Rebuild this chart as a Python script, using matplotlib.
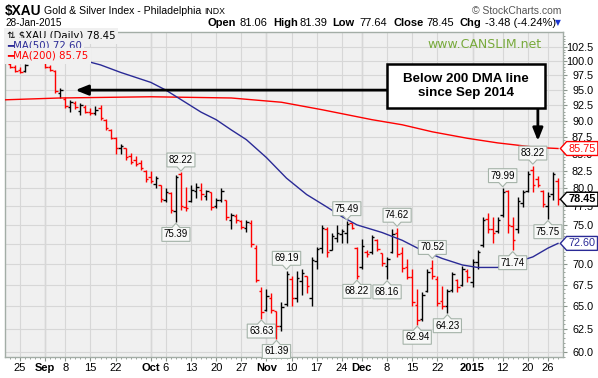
import matplotlib
matplotlib.use("Agg")
import matplotlib.pyplot as plt
import numpy as np
from matplotlib.path import Path
from matplotlib.patches import Rectangle
from matplotlib.ticker import FixedLocator, NullFormatter

plt.rcParams['font.family'] = ['Liberation Sans', 'DejaVu Sans']

W, H = 598, 378

# daily bars, day 0 = 21-Aug-2014 ... day 109 = 28-Jan-2015
opens = [99.4, 99.0, 98.4, 98.2, 100.6, 101.6, 102.1, 99.8, 99.0, 98.3,
         94.6, 93.6, 92.2, 92.9, 91.6, 92.3, 91.5, 91.3, 92.0, 90.2,
         88.6, 87.3, 85.8, 85.8, 84.6, 84.0, 83.6, 82.5, 81.6, 80.6,
         80.5, 78.4, 79.3, 76.8, 82.0, 77.4, 78.2, 79.6, 79.8, 78.9,
         79.4, 77.5, 78.3, 78.4, 75.6, 76.2, 75.5, 74.6, 75.3, 72.0,
         66.8, 64.6, 66.0, 64.5, 62.8, 65.3, 68.2, 66.0, 68.0, 68.6,
         66.0, 70.4, 72.0, 74.5, 71.8, 73.3, 73.8, 74.0, 75.2, 72.0,
         69.6, 71.5, 71.5, 73.0, 71.4, 69.8, 71.5, 74.0, 71.4, 69.6,
         68.4, 65.2, 63.6, 66.8, 69.5, 68.2, 65.6, 65.0, 66.9, 68.1,
         67.5, 69.2, 67.8, 70.3, 72.4, 75.8, 74.5, 74.2, 76.3, 79.6,
         74.8, 74.4, 78.0, 79.6, 82.6, 81.3, 79.6, 77.5, 79.2, 81.06]
highs = [99.6, 99.3, 98.9, 99.5, 102.0, 102.8, 102.4, 100.0, 99.2, 98.5,
         95.4, 93.8, 93.4, 93.2, 92.9, 92.5, 92.0, 92.4, 92.6, 90.3,
         88.8, 87.5, 86.4, 85.9, 85.1, 84.6, 84.0, 82.6, 82.4, 81.7,
         80.5, 80.0, 79.5, 81.9, 82.22, 80.2, 80.5, 80.7, 80.7, 79.8,
         79.5, 78.6, 80.0, 78.4, 76.6, 76.4, 75.7, 75.7, 75.7, 72.4,
         67.3, 67.0, 66.5, 64.5, 65.5, 69.19, 68.6, 69.2, 69.4, 68.6,
         70.9, 72.2, 75.0, 74.7, 73.9, 75.0, 74.4, 75.49, 75.3, 72.2,
         73.1, 71.8, 73.7, 73.1, 71.4, 70.9, 74.4, 74.62, 72.2, 70.6,
         69.4, 67.0, 66.7, 69.4, 70.52, 68.6, 67.4, 67.0, 69.1, 68.2,
         69.8, 69.4, 70.6, 71.8, 76.1, 76.6, 76.1, 76.1, 79.99, 79.8,
         76.1, 78.8, 79.8, 82.4, 83.22, 81.7, 79.8, 79.4, 82.3, 81.39]
lows = [98.8, 98.1, 97.9, 98.1, 100.4, 101.2, 100.8, 98.8, 98.2, 94.6,
        93.7, 92.0, 91.5, 91.9, 91.0, 91.2, 91.0, 91.0, 90.2, 88.6,
        87.2, 85.0, 84.9, 84.1, 83.4, 83.1, 82.6, 80.9, 80.7, 80.0,
        78.1, 78.1, 76.6, 75.39, 77.0, 76.8, 78.1, 78.6, 78.4, 78.4,
        77.0, 77.3, 78.1, 75.7, 74.4, 75.3, 74.4, 74.1, 72.2, 67.9,
        63.63, 64.5, 64.2, 61.39, 62.3, 65.0, 65.1, 65.5, 66.3, 66.5,
        65.1, 69.4, 71.4, 70.9, 71.8, 72.8, 72.7, 72.7, 74.4, 68.22,
        69.4, 70.9, 71.2, 71.6, 69.8, 68.16, 71.4, 70.9, 69.1, 68.2,
        65.1, 62.94, 63.4, 66.7, 68.2, 65.0, 64.7, 64.23, 66.7, 66.7,
        67.4, 67.9, 67.3, 69.4, 72.2, 73.9, 72.7, 73.9, 76.1, 73.9,
        71.74, 74.0, 77.4, 79.4, 79.4, 80.2, 77.4, 75.75, 78.4, 77.64]
closes = [99.0, 98.3, 98.1, 99.3, 101.6, 102.3, 101.2, 99.0, 98.4, 94.9,
          95.1, 92.4, 93.0, 92.3, 92.6, 91.5, 91.2, 91.8, 90.5, 88.9,
          87.4, 85.9, 86.2, 84.5, 83.8, 83.5, 82.8, 81.3, 81.0, 81.4,
          78.5, 79.4, 77.0, 81.6, 77.5, 77.2, 79.8, 80.2, 79.2, 79.6,
          77.4, 78.3, 79.6, 76.0, 76.3, 75.6, 74.7, 75.4, 72.5, 68.1,
          64.4, 66.2, 64.6, 62.8, 64.9, 68.8, 66.0, 68.3, 68.9, 67.4,
          70.5, 71.9, 74.6, 71.5, 73.6, 73.9, 74.2, 75.1, 74.6, 68.6,
          72.3, 71.3, 73.4, 71.9, 70.1, 70.6, 73.8, 71.3, 69.5, 68.5,
          65.5, 63.5, 66.3, 69.1, 68.6, 65.4, 65.0, 66.8, 68.8, 67.3,
          69.4, 68.4, 70.3, 71.5, 75.6, 74.5, 74.0, 75.7, 79.5, 75.0,
          73.0, 78.2, 79.4, 82.0, 80.5, 80.4, 77.8, 78.9, 81.93, 78.45]

ma50_day = [0, 15, 18, 22, 28, 31, 38, 41, 44, 47, 51, 55, 59, 63, 66, 69,
            74, 78, 82, 86, 90, 93, 97, 101, 104, 107, 109]
ma50_val = [103.0, 100.0, 99.3, 98.0, 96.3, 95.0, 91.4, 90.2, 88.6, 87.1,
            84.4, 81.4, 79.1, 77.4, 76.1, 75.0, 74.0, 73.0, 71.7, 70.7,
            69.9, 69.6, 69.6, 70.3, 70.9, 72.0, 72.6]
ma200_day = [-1, 10, 28, 44, 54, 62, 72, 78, 84, 91, 97, 105, 109]
ma200_val = [93.4, 93.7, 93.9, 93.7, 93.0, 91.8, 90.2, 89.4, 88.3, 87.3,
             86.6, 85.9, 85.75]

tick_pos = [2, 7, 11, 16, 21, 28, 31, 36, 41, 46, 51, 56, 61, 66, 70, 75,
            80, 85, 92, 98, 103, 107]
tick_labels = ['25', 'Sep', '8', '15', '22', 'Oct', '6', '13', '20', '27',
               'Nov', '10', '17', '24', 'Dec', '8', '15', '22', '2015', '12',
               '20', '26']
month_pos = [7, 28, 51, 70, 92]

high_marks = [34, 55, 67, 77, 84, 98, 104]
low_marks = [33, 50, 53, 69, 75, 81, 87, 100, 107]

BG = '#f0f0f0'
EDGE = '#a3ada6'
NAVY = '#2a2a96'


def fx(x):
    return x / W


def fy(y):
    return 1 - y / H


def tag_box(x0, y0, width, height, mutation_size):
    pad = 0.18 * mutation_size
    x0, y0 = x0 - pad, y0 - pad
    w, h = width + 2 * pad, height + 2 * pad
    tip = 0.45 * h
    verts = [(x0 - tip, y0 + h / 2), (x0, y0), (x0 + w, y0), (x0 + w, y0 + h),
             (x0, y0 + h), (x0 - tip, y0 + h / 2)]
    codes = [Path.MOVETO] + [Path.LINETO] * 4 + [Path.CLOSEPOLY]
    return Path(verts, codes)


def callout(down):
    # label box with a small notch pointing at the bar
    def style(x0, y0, width, height, mutation_size):
        pad = 0.2 * mutation_size
        x0, y0 = x0 - pad, y0 - pad
        w, h = width + 2 * pad, height + 2 * pad
        cx, n, d = x0 + w / 2, 0.28 * h, 0.3 * h
        if down:
            verts = [(x0, y0), (cx - n, y0), (cx, y0 - d), (cx + n, y0), (x0 + w, y0),
                     (x0 + w, y0 + h), (x0, y0 + h), (x0, y0)]
        else:
            verts = [(x0, y0), (x0 + w, y0), (x0 + w, y0 + h), (cx + n, y0 + h),
                     (cx, y0 + h + d), (cx - n, y0 + h), (x0, y0 + h), (x0, y0)]
        codes = [Path.MOVETO] + [Path.LINETO] * 6 + [Path.CLOSEPOLY]
        return Path(verts, codes)
    return style


fig = plt.figure(figsize=(W / 100, H / 100), dpi=100, facecolor='white')
ax = fig.add_axes([fx(5), fy(357), 558 / W, 325 / H])
ax.set_facecolor(BG)
ax.set_yscale('log')
ax.set_xlim(-1, 110)
ax.set_ylim(59.48, 105.2)

# grid
ax.set_axisbelow(True)
yt = np.arange(60, 103, 2.5)
ax.yaxis.tick_right()
ax.set_yticks(yt)
ax.set_yticklabels(['%.1f' % v for v in yt])
ax.yaxis.set_minor_locator(FixedLocator([v for v in np.arange(59.5, 105.1, 0.5)
                                         if abs((v / 2.5) - round(v / 2.5)) > 1e-6]))
ax.yaxis.set_minor_formatter(NullFormatter())
ax.set_xticks(tick_pos)
ax.set_xticklabels(tick_labels)
ax.set_xticks(range(len(closes)), minor=True)
for lab in ax.get_xticklabels():
    if lab.get_text() in ('Sep', 'Oct', 'Nov', 'Dec', '2015'):
        lab.set_fontweight('bold')
ax.grid(True, which='major', color='#d7d7d7', lw=0.8)
for m in month_pos:
    ax.axvline(m, color='#b8b8b8', lw=0.9, zorder=0.5)

ax.tick_params(axis='y', which='major', length=3, color='#8a948c', labelsize=7.8,
               pad=18.7)
ax.tick_params(axis='y', which='minor', length=1.5, color='#8a948c')
for lab in ax.get_yticklabels():
    lab.set_ha('right')
ax.tick_params(axis='x', which='major', length=3, color='#8a948c', labelsize=8, pad=1.5)
ax.tick_params(axis='x', which='minor', length=1.5, color='#8a948c')
for s in ax.spines.values():
    s.set_color(EDGE)
    s.set_linewidth(1)

# OHLC bars
days = np.arange(len(closes))
o, h, l, c = map(np.array, (opens, highs, lows, closes))
prev = np.r_[o[0], c[:-1]]
cols = np.where(c < prev, '#ff0000', '#000000')
ax.vlines(days, l, h, colors=cols, lw=1.0, zorder=3)
ax.hlines(o, days - 0.5, days, colors=cols, lw=1.0, zorder=3)
ax.hlines(c, days, days + 0.5, colors=cols, lw=1.0, zorder=3)

# moving averages
ax.plot(ma200_day, ma200_val, color='#ff0000', lw=1.0, zorder=4)
ax.plot(ma50_day, ma50_val, color=NAVY, lw=1.0, zorder=4)

# high / low labels
lbl = dict(ha='center', va='center', fontsize=7, textcoords='offset points', zorder=6)
for i in high_marks:
    ax.annotate('%.2f' % h[i], xy=(i, h[i]), xytext=(0, 9),
                bbox=dict(boxstyle=callout(True), fc='#f7f8f7', ec='#a5b3a9', lw=0.8),
                **lbl)
for i in low_marks:
    ax.annotate('%.2f' % l[i], xy=(i, l[i]), xytext=(0, -9),
                bbox=dict(boxstyle=callout(False), fc='#f7f8f7', ec='#a5b3a9', lw=0.8),
                **lbl)

# right-axis value tags
for v, col, wt in [(ma200_val[-1], '#ff0000', 'normal'), (c[-1], 'black', 'bold'),
                   (ma50_val[-1], NAVY, 'normal')]:
    ax.annotate('%.2f' % v, xy=(1, v), xycoords=('axes fraction', 'data'),
                xytext=(4, 0), textcoords='offset points', ha='left', va='center',
                fontsize=7.8, color=col, fontweight=wt, annotation_clip=False,
                bbox=dict(boxstyle=tag_box, fc='white', ec=col, lw=1), zorder=7)

# callout
arrow = dict(arrowstyle='-|>,head_length=0.75,head_width=0.3', color='black',
             lw=2.0, shrinkA=0, shrinkB=0, mutation_scale=10)
ax.annotate('', xy=(13, 95.0), xytext=(75.2, 95.0), arrowprops=arrow, zorder=5)
ax.annotate('', xy=(105, 86.9), xytext=(105, 92.1), arrowprops=arrow, zorder=5)
fig.add_artist(Rectangle((fx(387), fy(108)), 158 / W, 44 / H, transform=fig.transFigure,
                         fc='white', ec='black', lw=1.8, zorder=5))
fig.text(fx(466), fy(86), 'Below 200 DMA line\nsince Sep 2014', ha='center',
         va='center', fontsize=9.6, fontweight='bold', linespacing=1.2, zorder=6)

# legend
leg = dict(family='DejaVu Sans', fontsize=7.3, va='center',
           bbox=dict(boxstyle='square,pad=0.25', fc=BG, ec='none'))
fig.text(fx(7), fy(36), '\u21c5 $XAU (Daily) 78.45', color='black', **leg)
fig.text(fx(7), fy(46), '\u2501MA(50) 72.60', color=NAVY, **leg)
fig.text(fx(7), fy(56), '\u2501MA(200) 85.75', color='#ff0000', **leg)

# header
fig.text(fx(5), fy(11), '$XAU', fontsize=9.8, fontweight='bold', va='center')
fig.text(fx(44), fy(11), 'Gold & Silver Index - Philadelphia', fontsize=7.6, va='center')
fig.text(fx(204), fy(12), 'INDX', fontsize=6.3, va='center')
fig.text(fx(5), fy(23), '28-Jan-2015', fontsize=7.2, va='center')
for x, s, wt in [(208, 'Open', 'bold'), (240, '81.06', 'normal'), (273, 'High', 'bold'),
                 (299, '81.39', 'normal'), (332, 'Low', 'bold'), (359, '77.64', 'normal'),
                 (393, 'Close', 'bold'), (426, '78.45', 'normal'), (460, 'Chg', 'bold'),
                 (485, '-3.48 (-4.24%)', 'normal')]:
    fig.text(fx(x), fy(23), s, fontsize=8, fontweight=wt, va='center')
fig.text(fx(555), fy(23), '\u25bc', fontsize=5.5, color='#1a35d0', va='center',
         family='DejaVu Sans')
fig.text(fx(472), fy(11), '\u00a9 StockCharts.com', fontsize=7.5, color='#555555',
         va='center')
fig.text(fx(427), fy(44), 'www.CANSLIM.net', family='DejaVu Sans', fontsize=9,
         color='#78aa3c', va='center')

fig.savefig('out.png', dpi=100, facecolor='white')
